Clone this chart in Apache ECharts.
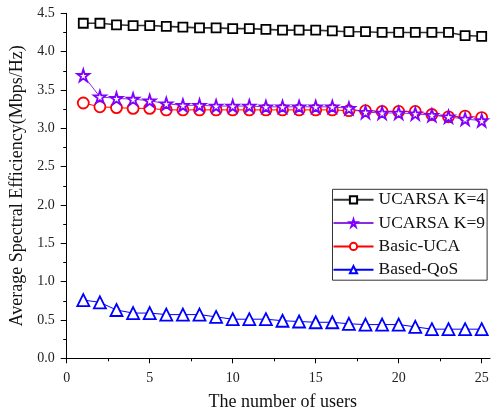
<!DOCTYPE html>
<html>
<head>
<meta charset="utf-8">
<script src="https://cdn.jsdelivr.net/npm/echarts@6/dist/echarts.min.js"></script>
<style>
html,body{margin:0;padding:0;background:#fff;}
#chart{width:492px;height:412px;}
</style>
</head>
<body>
<div id="chart"></div>
<script>
var users = [1,2,3,4,5,6,7,8,9,10,11,12,13,14,15,16,17,18,19,20,21,22,23,24,25];
var ucarsaK4 = [4.37,4.37,4.35,4.34,4.34,4.33,4.32,4.31,4.31,4.30,4.30,4.29,4.28,4.28,4.28,4.27,4.26,4.26,4.25,4.25,4.25,4.25,4.25,4.21,4.20];
var ucarsaK9 = [3.69,3.41,3.39,3.38,3.36,3.32,3.30,3.30,3.29,3.29,3.29,3.28,3.28,3.28,3.28,3.28,3.26,3.21,3.20,3.20,3.19,3.17,3.15,3.12,3.10];
var basicUCA = [3.33,3.28,3.27,3.26,3.26,3.24,3.24,3.24,3.24,3.24,3.24,3.24,3.24,3.24,3.24,3.24,3.23,3.23,3.22,3.22,3.22,3.18,3.15,3.16,3.14];
var basedQoS = [0.76,0.73,0.63,0.59,0.59,0.57,0.57,0.57,0.54,0.51,0.51,0.51,0.49,0.48,0.47,0.47,0.45,0.44,0.44,0.44,0.41,0.38,0.38,0.38,0.38];
var seriesNames = ['UCARSA K=4','UCARSA K=9','Basic-UCA','Based-QoS'];
var xMajorTicks = [0,5,10,15,20,25];
var xMinorTicks = [2.5,7.5,12.5,17.5,22.5];
var xTitle = 'The number of users';
var yTitle = 'Average Spectral Efficiency(Mbps/Hz)';

var STAR = 'path://M50 0 L61.17 34.63 L97.55 34.55 L68.07 55.87 L79.39 90.45 L50 69 L20.61 90.45 L31.93 55.87 L2.45 34.55 L38.83 34.63 Z';
var FONT = 'Liberation Serif';

function pairs(vals){ return users.map(function(u,i){ return [u, vals[i]]; }); }

function mk(name, vals, color, symbol, size, lineColor, lineWidth, z){
  return {
    name: name, type: 'line', data: pairs(vals), z: z,
    symbol: symbol, symbolSize: size,
    lineStyle: {color: lineColor, width: lineWidth},
    itemStyle: {color: '#fff', borderColor: color, borderWidth: 1.8},
    color: color,
    animation: false
  };
}

var chart = echarts.init(document.getElementById('chart'), null, {renderer:'canvas'});
chart.setOption({
  backgroundColor: '#fff',
  animation: false,
  textStyle: {fontFamily: FONT},
  grid: {left: 66.7, right: 2, top: 13.3, bottom: 53.7, containLabel: false, outerBoundsMode: 'none'},
  legend: {
    data: seriesNames,
    orient: 'vertical',
    left: 332.5, top: 189.3,
    align: 'left',
    itemWidth: 40, itemHeight: 9, itemGap: 5.3,
    padding: [1.5, 2, 1.5, 0],
    borderColor: '#333', borderWidth: 1,
    backgroundColor: '#fff',
    textStyle: {fontFamily: FONT, fontSize: 17.5, color: '#111'}
  },
  xAxis: [{
    type: 'value', min: 0, max: 25.5, interval: 5,
    name: xTitle, nameLocation: 'middle', nameGap: 35,
    nameTextStyle: {fontFamily: FONT, fontSize: 18, color: '#111', padding: [0,0,0,9]},
    axisLine: {show: true, onZero: false, lineStyle: {color: '#000', width: 1}},
    axisTick: {show: true, length: 5, customValues: xMajorTicks, lineStyle: {color: '#000'}},
    axisLabel: {customValues: xMajorTicks, margin: 13, fontFamily: FONT, fontSize: 14, color: '#222'},
    splitLine: {show: false}
  },{
    type: 'value', min: 0, max: 25.5, position: 'bottom',
    axisLine: {show: false},
    axisTick: {show: true, length: 3, customValues: xMinorTicks, lineStyle: {color: '#000'}},
    axisLabel: {show: false},
    splitLine: {show: false}
  }],
  yAxis: {
    type: 'value', min: 0, max: 4.5, interval: 0.5,
    name: yTitle, nameLocation: 'middle', nameGap: 32,
    nameTextStyle: {fontFamily: FONT, fontSize: 18, color: '#111'},
    axisLine: {show: true, lineStyle: {color: '#000', width: 1}},
    axisTick: {show: true, length: 6, lineStyle: {color: '#000'}},
    minorTick: {show: true, splitNumber: 2, length: 3.5, lineStyle: {color: '#000'}},
    axisLabel: {margin: 12, fontFamily: FONT, fontSize: 14, color: '#222',
      formatter: function(v){ return v.toFixed(1); }},
    splitLine: {show: false}
  },
  series: [
    mk(seriesNames[0], ucarsaK4, '#000000', 'rect', 9, '#333333', 1.6, 2),
    mk(seriesNames[1], ucarsaK9, '#7f00ff', STAR, 12, '#8a2be2', 1, 4),
    mk(seriesNames[2], basicUCA, '#ff0000', 'circle', 11, '#ff0000', 1, 3),
    mk(seriesNames[3], basedQoS, '#0000ff', 'triangle', 12, '#0000ff', 1, 2)
  ]
});
</script>
</body>
</html>
